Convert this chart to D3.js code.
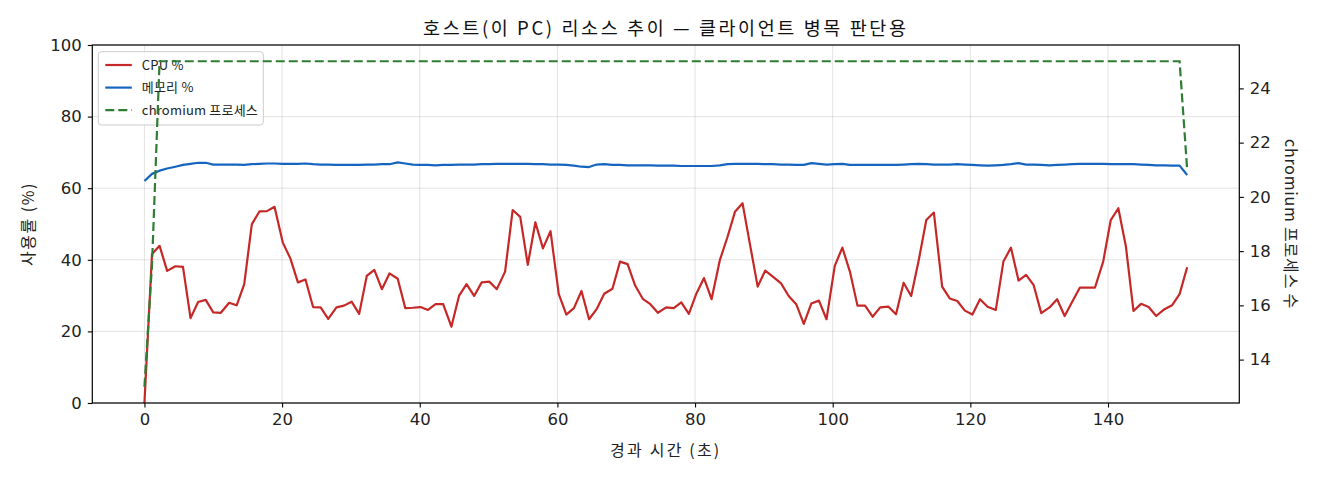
<!DOCTYPE html>
<html>
<head>
<meta charset="utf-8">
<script src="https://cdn.jsdelivr.net/npm/d3@7"></script>
<style>
  body { margin: 0; background: #fff; }
  svg { font-family: "Noto Sans CJK KR", "Noto Sans", sans-serif; }
</style>
</head>
<body>
<div id="chart"></div>
<script>
// elapsed seconds of each sample
let elapsed = [0.0, 1.1, 2.2, 3.3, 4.5, 5.6, 6.7, 7.8, 8.9, 10.0, 11.1, 12.3, 13.4, 14.5, 15.6, 16.7, 17.8, 18.9, 20.1, 21.2,
    22.3, 23.4, 24.5, 25.6, 26.7, 27.9, 29.0, 30.1, 31.2, 32.3, 33.4, 34.5, 35.6, 36.8, 37.9, 39.0, 40.1, 41.2, 42.3, 43.4,
    44.6, 45.7, 46.8, 47.9, 49.0, 50.1, 51.2, 52.4, 53.5, 54.6, 55.7, 56.8, 57.9, 59.0, 60.2, 61.3, 62.4, 63.5, 64.6, 65.7,
    66.8, 68.0, 69.1, 70.2, 71.3, 72.4, 73.5, 74.6, 75.8, 76.9, 78.0, 79.1, 80.2, 81.3, 82.4, 83.6, 84.7, 85.8, 86.9, 88.0,
    89.1, 90.2, 91.3, 92.5, 93.6, 94.7, 95.8, 96.9, 98.0, 99.1, 100.3, 101.4, 102.5, 103.6, 104.7, 105.8, 106.9, 108.1, 109.2, 110.3,
    111.4, 112.5, 113.6, 114.7, 115.9, 117.0, 118.1, 119.2, 120.3, 121.4, 122.5, 123.7, 124.8, 125.9, 127.0, 128.1, 129.2, 130.3, 131.5, 132.6,
    133.7, 134.8, 135.9, 137.0, 138.1, 139.3, 140.4, 141.5, 142.6, 143.7, 144.8, 145.9, 147.0, 148.2, 149.3, 150.4, 151.5];

let cpuPct = [0, 41.6, 43.9, 36.9, 38.2, 38.0, 23.7, 28.2, 28.8, 25.3, 25.2, 28.0, 27.3, 33.2, 49.9, 53.5, 53.6, 54.8, 44.8, 40.4,
    33.7, 34.5, 26.8, 26.7, 23.5, 26.7, 27.2, 28.3, 24.9, 35.5, 37.2, 31.8, 36.2, 34.7, 26.5, 26.6, 26.8, 26.0, 27.6, 27.6,
    21.3, 29.9, 33.2, 29.9, 33.7, 33.9, 31.8, 36.7, 53.9, 52.0, 38.6, 50.5, 43.2, 48.0, 30.4, 24.7, 26.5, 31.3, 23.4, 26.2,
    30.5, 31.9, 39.5, 38.8, 32.8, 29.1, 27.6, 25.2, 26.7, 26.5, 28.1, 24.9, 30.6, 34.9, 29.0, 39.9, 46.3, 53.4, 55.8, 44.1,
    32.5, 37.0, 35.3, 33.4, 29.9, 27.6, 22.1, 27.8, 28.6, 23.4, 38.3, 43.4, 36.7, 27.2, 27.2, 24.1, 26.7, 26.9, 24.8, 33.6,
    29.9, 39.9, 51.1, 53.2, 32.5, 29.2, 28.5, 25.8, 24.7, 29.0, 26.9, 26.0, 39.5, 43.4, 34.2, 35.8, 32.9, 25.1, 26.7, 29.0,
    24.3, 28.3, 32.2, 32.2, 32.2, 39.5, 51.1, 54.4, 43.7, 25.7, 27.7, 26.8, 24.3, 26.2, 27.3, 30.4, 37.9];

let memPct = [62.0, 64.0, 64.9, 65.5, 66.0, 66.5, 66.8, 67.1, 67.1, 66.6, 66.6, 66.6, 66.6, 66.5, 66.7, 66.8, 66.9, 66.9, 66.8, 66.8,
    66.8, 66.9, 66.7, 66.6, 66.6, 66.5, 66.5, 66.5, 66.5, 66.6, 66.6, 66.7, 66.7, 67.2, 66.9, 66.6, 66.5, 66.5, 66.4, 66.5,
    66.5, 66.6, 66.6, 66.6, 66.7, 66.7, 66.8, 66.8, 66.8, 66.8, 66.8, 66.7, 66.7, 66.6, 66.6, 66.5, 66.3, 66.0, 65.9, 66.6,
    66.7, 66.5, 66.5, 66.4, 66.4, 66.4, 66.4, 66.3, 66.3, 66.3, 66.2, 66.2, 66.2, 66.2, 66.2, 66.4, 66.7, 66.8, 66.8, 66.8,
    66.8, 66.7, 66.7, 66.6, 66.6, 66.5, 66.5, 67.0, 66.8, 66.6, 66.7, 66.8, 66.5, 66.5, 66.5, 66.5, 66.5, 66.5, 66.5, 66.6,
    66.7, 66.8, 66.7, 66.6, 66.6, 66.6, 66.7, 66.6, 66.5, 66.4, 66.3, 66.4, 66.5, 66.7, 67.0, 66.6, 66.6, 66.5, 66.4, 66.5,
    66.6, 66.7, 66.8, 66.8, 66.8, 66.8, 66.7, 66.7, 66.7, 66.7, 66.6, 66.5, 66.4, 66.4, 66.3, 66.3, 63.7];

let chromiumCount = [13, 17.5, 25, 25, 25, 25, 25, 25, 25, 25, 25, 25, 25, 25, 25, 25, 25, 25, 25, 25,
    25, 25, 25, 25, 25, 25, 25, 25, 25, 25, 25, 25, 25, 25, 25, 25, 25, 25, 25, 25,
    25, 25, 25, 25, 25, 25, 25, 25, 25, 25, 25, 25, 25, 25, 25, 25, 25, 25, 25, 25,
    25, 25, 25, 25, 25, 25, 25, 25, 25, 25, 25, 25, 25, 25, 25, 25, 25, 25, 25, 25,
    25, 25, 25, 25, 25, 25, 25, 25, 25, 25, 25, 25, 25, 25, 25, 25, 25, 25, 25, 25,
    25, 25, 25, 25, 25, 25, 25, 25, 25, 25, 25, 25, 25, 25, 25, 25, 25, 25, 25, 25,
    25, 25, 25, 25, 25, 25, 25, 25, 25, 25, 25, 25, 25, 25, 25, 25, 21];

let xTicks = [0, 20, 40, 60, 80, 100, 120, 140],
    leftTicks = [0, 20, 40, 60, 80, 100],
    rightTicks = [14, 16, 18, 20, 22, 24];

let seriesLabels = ['CPU %', '메모리 %', 'chromium 프로세스'];

let width = 1320,
    height = 480,
    margin = {left: 92.3, top: 45, right: 80.7, bottom: 77},
    clipWidth = width - margin.left - margin.right,
    clipHeight = height - margin.top - margin.bottom;

let colors = {cpu: '#c62828', mem: '#1565c0', proc: '#2e7d32'};

let svg = d3.select('#chart').append('svg')
    .attr('width', width)
    .attr('height', height);

let g = svg.append('g')
    .attr('transform', `translate(${margin.left}, ${margin.top})`);

// matplotlib-like 5% padding on x and on the twin axis
let tMax = d3.max(elapsed),
    pad = tMax * 0.05;
let xScale = d3.scaleLinear()
    .domain([-pad, tMax + pad])
    .range([0, clipWidth]);

let yScale = d3.scaleLinear()
    .domain([0, 100])
    .range([clipHeight, 0]);

let cMin = d3.min(chromiumCount),
    cMax = d3.max(chromiumCount),
    cPad = (cMax - cMin) * 0.05;
let y2Scale = d3.scaleLinear()
    .domain([cMin - cPad, cMax + cPad])
    .range([clipHeight, 0]);

// grid
let grid_g = g.append('g').attr('class', 'grid');
grid_g.selectAll('.vgrid')
    .data(xTicks)
    .join('line')
    .attr('class', 'vgrid')
    .attr('x1', d => xScale(d)).attr('x2', d => xScale(d))
    .attr('y1', 0).attr('y2', clipHeight)
    .attr('stroke', '#b0b0b0').attr('stroke-opacity', 0.35).attr('stroke-width', 1);
grid_g.selectAll('.hgrid')
    .data(leftTicks)
    .join('line')
    .attr('class', 'hgrid')
    .attr('x1', 0).attr('x2', clipWidth)
    .attr('y1', d => yScale(d)).attr('y2', d => yScale(d))
    .attr('stroke', '#b0b0b0').attr('stroke-opacity', 0.35).attr('stroke-width', 1);

let pctLine = d3.line()
    .x((d, i) => xScale(elapsed[i]))
    .y(d => yScale(d));
let procLine = d3.line()
    .x((d, i) => xScale(elapsed[i]))
    .y(d => y2Scale(d));

g.append('path')
    .datum(cpuPct)
    .attr('d', pctLine)
    .attr('fill', 'none')
    .attr('stroke', colors.cpu)
    .attr('stroke-width', 2.2)
    .attr('stroke-linejoin', 'round');

g.append('path')
    .datum(memPct)
    .attr('d', pctLine)
    .attr('fill', 'none')
    .attr('stroke', colors.mem)
    .attr('stroke-width', 2.2)
    .attr('stroke-linejoin', 'round');

// legend (belongs to the left axes, so the twin line sits above it)
let legend_g = g.append('g')
    .attr('transform', 'translate(6, 6.7)');
legend_g.append('rect')
    .attr('width', 165).attr('height', 73.3)
    .attr('rx', 3)
    .attr('fill', '#fff').attr('fill-opacity', 0.8)
    .attr('stroke', '#cccccc').attr('stroke-width', 1);

let legendItems = [
    {label: seriesLabels[0], color: colors.cpu, dash: null},
    {label: seriesLabels[1], color: colors.mem, dash: null},
    {label: seriesLabels[2], color: colors.proc, dash: '9,4'}
];
legend_g.selectAll('.item')
    .data(legendItems)
    .join(enter => {
        let item = enter.append('g')
            .attr('class', 'item')
            .attr('transform', (d, i) => `translate(0, ${13.3 + i * 22.6})`);
        item.append('line')
            .attr('x1', 7).attr('x2', 33.5)
            .attr('stroke', d => d.color)
            .attr('stroke-width', 2.2)
            .attr('stroke-dasharray', d => d.dash);
        item.append('text')
            .attr('x', 43.5)
            .attr('dy', '0.35em')
            .style('font-size', '13px')
            .style('letter-spacing', '0.2px')
            .attr('fill', '#222')
            .text(d => d.label);
        return item;
    });

g.append('path')
    .datum(chromiumCount)
    .attr('d', procLine)
    .attr('fill', 'none')
    .attr('stroke', colors.proc)
    .attr('stroke-width', 2.2)
    .attr('stroke-dasharray', '9,4');

// axes
let xAxis = g.append('g')
    .attr('transform', `translate(0, ${clipHeight})`)
    .call(d3.axisBottom(xScale).tickValues(xTicks).tickSize(4.5).tickPadding(6).tickSizeOuter(0));
let yAxis = g.append('g')
    .call(d3.axisLeft(yScale).tickValues(leftTicks).tickSize(4.5).tickPadding(6).tickSizeOuter(0));
let y2Axis = g.append('g')
    .attr('transform', `translate(${clipWidth}, 0)`)
    .call(d3.axisRight(y2Scale).tickValues(rightTicks).tickSize(4.5).tickPadding(6).tickSizeOuter(0));

[xAxis, yAxis, y2Axis].forEach(a => {
    a.select('.domain').remove();
    a.selectAll('line').attr('stroke', '#000').attr('stroke-width', 1.1);
    a.selectAll('text')
        .style('font-size', '16.5px')
        .style('font-family', '"DejaVu Sans", sans-serif')
        .attr('fill', '#222');
});

// frame
g.append('rect')
    .attr('width', clipWidth).attr('height', clipHeight)
    .attr('fill', 'none')
    .attr('stroke', '#000').attr('stroke-width', 1.2);

// texts
svg.append('text')
    .attr('x', margin.left + clipWidth / 2)
    .attr('y', 35)
    .attr('text-anchor', 'middle')
    .style('font-size', '18.5px')
    .style('letter-spacing', '2.6px')
    .attr('fill', '#111')
    .text('호스트(이 PC) 리소스 추이 — 클라이언트 병목 판단용');

svg.append('text')
    .attr('x', margin.left + clipWidth / 2)
    .attr('y', 456)
    .attr('text-anchor', 'middle')
    .style('font-size', '16px')
    .style('letter-spacing', '2.2px')
    .attr('fill', '#222')
    .text('경과 시간 (초)');

svg.append('text')
    .attr('transform', `translate(28, ${margin.top + clipHeight / 2}) rotate(-90)`)
    .attr('text-anchor', 'middle')
    .attr('dy', '0.35em')
    .style('font-size', '16px')
    .style('letter-spacing', '1.5px')
    .attr('fill', '#222')
    .text('사용률 (%)');

svg.append('text')
    .attr('transform', `translate(1291, ${margin.top + clipHeight / 2}) rotate(90)`)
    .attr('text-anchor', 'middle')
    .attr('dy', '0.35em')
    .style('font-size', '16px')
    .style('letter-spacing', '0.8px')
    .attr('fill', '#222')
    .text('chromium 프로세스 수');
</script>
</body>
</html>
